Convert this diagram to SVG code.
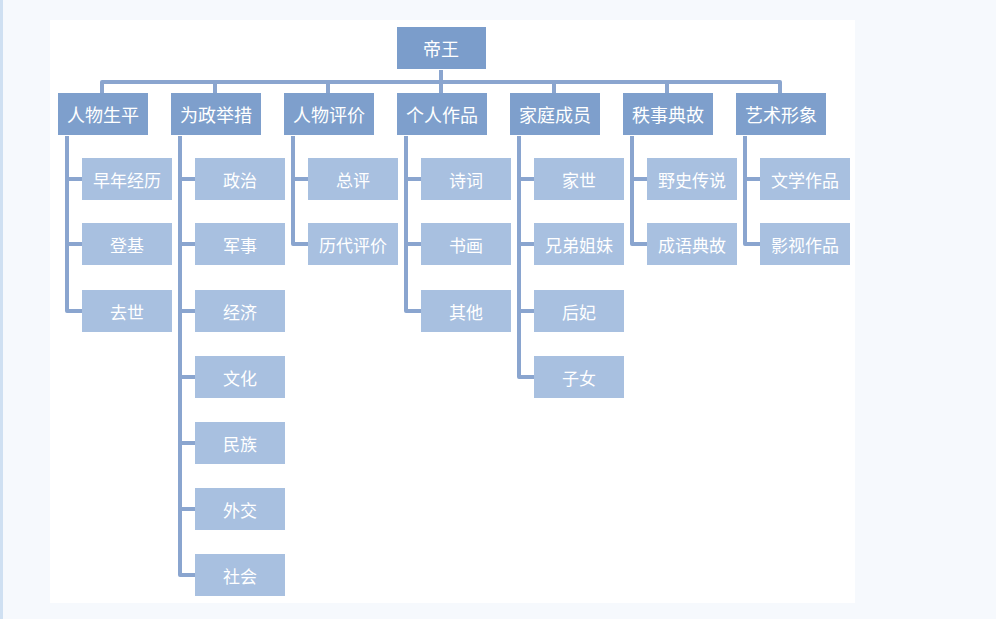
<svg xmlns="http://www.w3.org/2000/svg" width="996" height="619" viewBox="0 0 996 619">
<style>
.l0{fill:#7b9dcb}.l1{fill:#7e9fcc}.l2{fill:#a8c0e0}
text{font-family:"Noto Sans CJK SC",sans-serif;fill:#fff;text-anchor:middle;dominant-baseline:central}
.t1{font-size:18px}.t2{font-size:17px}
#connectors path{fill:none;stroke:#8aa5cf;stroke-width:4;stroke-linejoin:round}
</style>
<rect width="996" height="619" fill="#f6f9fd"/>
<rect x="0" y="0" width="3" height="619" fill="#cfe0f2"/>
<rect x="50" y="20" width="805" height="583" fill="#fff"/>
<g id="connectors">
<path d="M102 93V82H780V93M215 82V93M328 82V93M441 70V93M554 82V93M667 82V93"/>
<path d="M67 136V311H82M67 179H82M67 244H82"/>
<path d="M180 136V575H195M180 179H195M180 244H195M180 311H195M180 377H195M180 443H195M180 509H195"/>
<path d="M293 136V244H308M293 179H308"/>
<path d="M406 136V311H421M406 179H421M406 244H421"/>
<path d="M519 136V377H534M519 179H534M519 244H534M519 311H534"/>
<path d="M632 136V244H647M632 179H647"/>
<path d="M745 136V244H760M745 179H760"/>
</g>
<g id="root"><rect class="l0" x="397" y="27" width="89" height="42"/><text class="t1" x="441" y="48">帝王</text></g>
<g id="n1"><rect class="l1" x="58" y="93" width="90" height="42"/><text class="t1" x="103" y="114">人物生平</text></g>
<g id="n2"><rect class="l1" x="171" y="93" width="90" height="42"/><text class="t1" x="216" y="114">为政举措</text></g>
<g id="n3"><rect class="l1" x="284" y="93" width="90" height="42"/><text class="t1" x="329" y="114">人物评价</text></g>
<g id="n4"><rect class="l1" x="397" y="93" width="90" height="42"/><text class="t1" x="442" y="114">个人作品</text></g>
<g id="n5"><rect class="l1" x="510" y="93" width="90" height="42"/><text class="t1" x="555" y="114">家庭成员</text></g>
<g id="n6"><rect class="l1" x="623" y="93" width="90" height="42"/><text class="t1" x="668" y="114">秩事典故</text></g>
<g id="n7"><rect class="l1" x="736" y="93" width="90" height="42"/><text class="t1" x="781" y="114">艺术形象</text></g>
<g id="c11"><rect class="l2" x="82" y="158" width="90" height="42"/><text class="t2" x="127" y="179">早年经历</text></g>
<g id="c12"><rect class="l2" x="82" y="223" width="90" height="42"/><text class="t2" x="127" y="244">登基</text></g>
<g id="c13"><rect class="l2" x="82" y="290" width="90" height="42"/><text class="t2" x="127" y="311">去世</text></g>
<g id="c21"><rect class="l2" x="195" y="158" width="90" height="42"/><text class="t2" x="240" y="179">政治</text></g>
<g id="c22"><rect class="l2" x="195" y="223" width="90" height="42"/><text class="t2" x="240" y="244">军事</text></g>
<g id="c23"><rect class="l2" x="195" y="290" width="90" height="42"/><text class="t2" x="240" y="311">经济</text></g>
<g id="c24"><rect class="l2" x="195" y="356" width="90" height="42"/><text class="t2" x="240" y="377">文化</text></g>
<g id="c25"><rect class="l2" x="195" y="422" width="90" height="42"/><text class="t2" x="240" y="443">民族</text></g>
<g id="c26"><rect class="l2" x="195" y="488" width="90" height="42"/><text class="t2" x="240" y="509">外交</text></g>
<g id="c27"><rect class="l2" x="195" y="554" width="90" height="42"/><text class="t2" x="240" y="575">社会</text></g>
<g id="c31"><rect class="l2" x="308" y="158" width="90" height="42"/><text class="t2" x="353" y="179">总评</text></g>
<g id="c32"><rect class="l2" x="308" y="223" width="90" height="42"/><text class="t2" x="353" y="244">历代评价</text></g>
<g id="c41"><rect class="l2" x="421" y="158" width="90" height="42"/><text class="t2" x="466" y="179">诗词</text></g>
<g id="c42"><rect class="l2" x="421" y="223" width="90" height="42"/><text class="t2" x="466" y="244">书画</text></g>
<g id="c43"><rect class="l2" x="421" y="290" width="90" height="42"/><text class="t2" x="466" y="311">其他</text></g>
<g id="c51"><rect class="l2" x="534" y="158" width="90" height="42"/><text class="t2" x="579" y="179">家世</text></g>
<g id="c52"><rect class="l2" x="534" y="223" width="90" height="42"/><text class="t2" x="579" y="244">兄弟姐妹</text></g>
<g id="c53"><rect class="l2" x="534" y="290" width="90" height="42"/><text class="t2" x="579" y="311">后妃</text></g>
<g id="c54"><rect class="l2" x="534" y="356" width="90" height="42"/><text class="t2" x="579" y="377">子女</text></g>
<g id="c61"><rect class="l2" x="647" y="158" width="90" height="42"/><text class="t2" x="692" y="179">野史传说</text></g>
<g id="c62"><rect class="l2" x="647" y="223" width="90" height="42"/><text class="t2" x="692" y="244">成语典故</text></g>
<g id="c71"><rect class="l2" x="760" y="158" width="90" height="42"/><text class="t2" x="805" y="179">文学作品</text></g>
<g id="c72"><rect class="l2" x="760" y="223" width="90" height="42"/><text class="t2" x="805" y="244">影视作品</text></g>
</svg>
